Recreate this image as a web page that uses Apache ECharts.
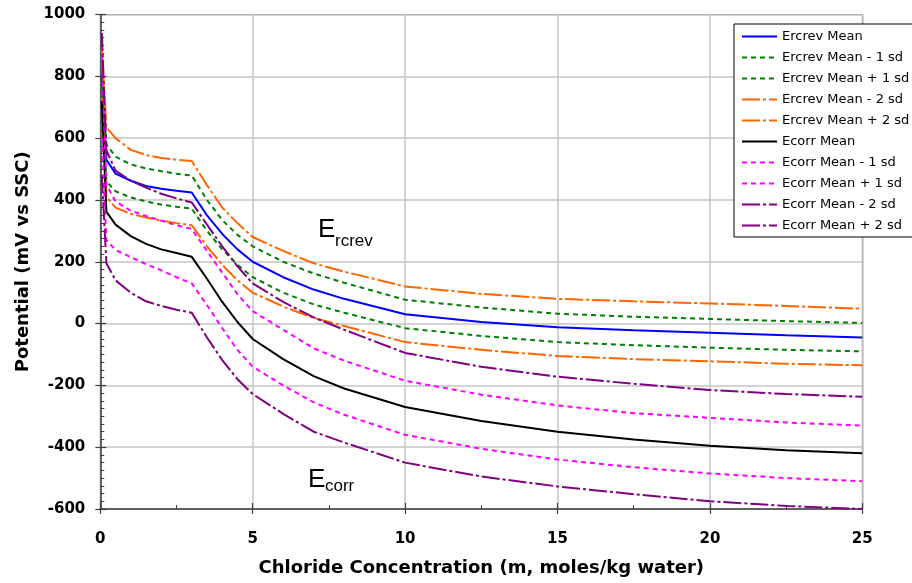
<!DOCTYPE html>
<html>
<head>
<meta charset="utf-8">
<script src="https://cdn.jsdelivr.net/npm/echarts@6/dist/echarts.min.js"></script>
<style>
  html, body { margin: 0; padding: 0; background: #fff; }
  #chart { width: 912px; height: 583px; }
</style>
</head>
<body>
<div id="chart"></div>
<script>
// Chloride concentration (m, moles/kg water)
const conc = [0.05, 0.2, 0.5, 1, 1.5, 2, 2.5, 3, 3.5, 4, 4.5, 5, 6, 7, 8, 10, 12.5, 15, 17.5, 20, 22.5, 25];

// Repassivation potential Ercrev (mV vs SSC)
const ercMean   = [810, 530, 485, 462, 445, 436, 430, 424, 350, 290, 240, 200, 150, 110, 80, 30, 5, -12, -22, -30, -38, -45];
const ercMinus1 = [770, 460, 428, 408, 395, 385, 378, 372, 300, 240, 190, 150, 100, 62, 35, -15, -40, -60, -70, -78, -85, -90];
const ercPlus1  = [850, 580, 540, 515, 502, 493, 485, 479, 400, 335, 287, 250, 200, 162, 132, 77, 52, 32, 22, 15, 8, 2];
const ercMinus2 = [730, 410, 375, 355, 343, 333, 325, 318, 250, 190, 140, 100, 55, 18, -8, -60, -85, -105, -115, -122, -130, -135];
const ercPlus2  = [890, 635, 600, 562, 545, 536, 530, 526, 448, 375, 325, 280, 235, 195, 168, 120, 96, 80, 72, 65, 57, 48];

// Corrosion potential Ecorr (mV vs SSC)
const ecoMean   = [720, 362, 320, 283, 258, 240, 228, 216, 145, 70, 5, -50, -115, -170, -210, -270, -315, -350, -375, -395, -410, -420];
const ecoMinus1 = [600, 270, 238, 215, 192, 172, 150, 130, 60, -15, -85, -140, -200, -255, -295, -360, -405, -440, -465, -485, -500, -510];
const ecoPlus1  = [870, 450, 395, 365, 348, 333, 318, 306, 235, 165, 95, 40, -20, -80, -120, -185, -230, -265, -290, -305, -320, -330];
const ecoMinus2 = [480, 195, 140, 100, 72, 57, 45, 35, -45, -118, -180, -228, -292, -350, -385, -450, -495, -527, -552, -575, -590, -600];
const ecoPlus2  = [940, 560, 495, 462, 440, 420, 405, 392, 320, 250, 185, 130, 70, 20, -20, -95, -140, -172, -195, -215, -228, -237];

const seriesNames = [
  'Ercrev Mean', 'Ercrev Mean - 1 sd', 'Ercrev Mean + 1 sd', 'Ercrev Mean - 2 sd', 'Ercrev Mean + 2 sd',
  'Ecorr Mean', 'Ecorr Mean - 1 sd', 'Ecorr Mean + 1 sd', 'Ecorr Mean - 2 sd', 'Ecorr Mean + 2 sd'
];
const seriesValues = [ercMean, ercMinus1, ercPlus1, ercMinus2, ercPlus2, ecoMean, ecoMinus1, ecoPlus1, ecoMinus2, ecoPlus2];

const yTicks = { min: -600, max: 1000, step: 200 };
const xTicks = { min: 0, max: 25, step: 5 };

const dotted = [5, 4];
const dashDot = [18, 3, 3, 3];
const styles = [
  { color: '#0000ff', type: 'solid' },
  { color: '#008000', type: dotted },
  { color: '#008000', type: dotted },
  { color: '#ff6600', type: dashDot },
  { color: '#ff6600', type: dashDot },
  { color: '#000000', type: 'solid' },
  { color: '#ff00ff', type: dotted },
  { color: '#ff00ff', type: dotted },
  { color: '#800080', type: dashDot },
  { color: '#800080', type: dashDot }
];

const series = seriesNames.map((name, i) => ({
  name: name,
  type: 'line',
  data: conc.map((c, j) => [c, seriesValues[i][j]]),
  symbol: 'none',
  showSymbol: false,
  smooth: false,
  clip: true,
  itemStyle: { color: styles[i].color },
  lineStyle: { color: styles[i].color, width: 2, type: styles[i].type }
}));

const tickFont = { fontFamily: 'DejaVu Sans', fontWeight: 'bold', fontSize: 15, color: '#000' };
const titleFont = { fontFamily: 'DejaVu Sans', fontWeight: 'bold', fontSize: 18, color: '#000' };
const axisGray = '#404040';
const plainNumber = v => String(v);

const chart = echarts.init(document.getElementById('chart'), null, { renderer: 'canvas' });
chart.setOption({
  animation: false,
  backgroundColor: '#fff',
  grid: {
    left: 100.3, right: 49.7, top: 14.5, bottom: 74,
    show: true, borderColor: '#808080', borderWidth: 1, backgroundColor: '#fff',
    containLabel: false, outerBoundsMode: 'none'
  },
  xAxis: [{
    type: 'value', position: 'bottom',
    min: xTicks.min, max: xTicks.max, interval: xTicks.step,
    name: 'Chloride Concentration (m, moles/kg water)',
    nameLocation: 'middle', nameGap: 50, nameTextStyle: titleFont,
    axisLine: { show: true, onZero: false, lineStyle: { color: axisGray, width: 1.5 } },
    axisTick: { show: true, inside: true, length: 6, lineStyle: { color: axisGray, width: 1.2 } },
    minorTick: { show: true, splitNumber: 2, length: 4, lineStyle: { color: axisGray, width: 1 } },
    axisLabel: Object.assign({ margin: 23, formatter: plainNumber }, tickFont),
    splitLine: { show: true, lineStyle: { color: '#c4c4c4', width: 1.5 } }
  }, {
    type: 'value', position: 'bottom',
    min: xTicks.min, max: xTicks.max, interval: xTicks.step,
    axisLine: { show: false, onZero: false },
    axisTick: { show: true, inside: false, length: 5, lineStyle: { color: axisGray, width: 1.2 } },
    axisLabel: { show: false },
    splitLine: { show: false }
  }],
  yAxis: [{
    type: 'value', position: 'left',
    min: yTicks.min, max: yTicks.max, interval: yTicks.step,
    name: 'Potential (mV vs SSC)',
    nameLocation: 'middle', nameGap: 66, nameRotate: 90, nameTextStyle: titleFont,
    axisLine: { show: true, onZero: false, lineStyle: { color: axisGray, width: 1.5 } },
    axisTick: { show: true, inside: true, length: 6, lineStyle: { color: axisGray, width: 1.2 } },
    minorTick: { show: true, splitNumber: 8, length: 4, lineStyle: { color: axisGray, width: 1 } },
    axisLabel: Object.assign({ margin: 15, formatter: plainNumber }, tickFont),
    splitLine: { show: true, lineStyle: { color: '#c4c4c4', width: 1.5 } }
  }, {
    type: 'value', position: 'left',
    min: yTicks.min, max: yTicks.max, interval: yTicks.step,
    axisLine: { show: false, onZero: false },
    axisTick: { show: true, inside: false, length: 5, lineStyle: { color: axisGray, width: 1.2 } },
    axisLabel: { show: false },
    splitLine: { show: false }
  }],
  legend: {
    orient: 'vertical',
    left: 734, top: 24,
    padding: [6, 30, 5, 7],
    itemWidth: 35, itemHeight: 14, itemGap: 8,
    backgroundColor: '#fff', borderColor: '#000', borderWidth: 1,
    itemStyle: { opacity: 0 },
    textStyle: { fontFamily: 'DejaVu Sans', fontSize: 13, color: '#000' },
    data: seriesNames
  },
  graphic: [
    { type: 'text', x: 318, y: 230, z: 100,
      style: { text: 'E', font: '26px "Liberation Sans"', fill: '#000', verticalAlign: 'middle' } },
    { type: 'text', x: 335, y: 241.5, z: 100,
      style: { text: 'rcrev', font: '17px "Liberation Sans"', fill: '#000', verticalAlign: 'middle' } },
    { type: 'text', x: 308, y: 480, z: 100,
      style: { text: 'E', font: '26px "Liberation Sans"', fill: '#000', verticalAlign: 'middle' } },
    { type: 'text', x: 325, y: 486.5, z: 100,
      style: { text: 'corr', font: '17px "Liberation Sans"', fill: '#000', verticalAlign: 'middle' } }
  ],
  series: series
});
</script>
</body>
</html>
